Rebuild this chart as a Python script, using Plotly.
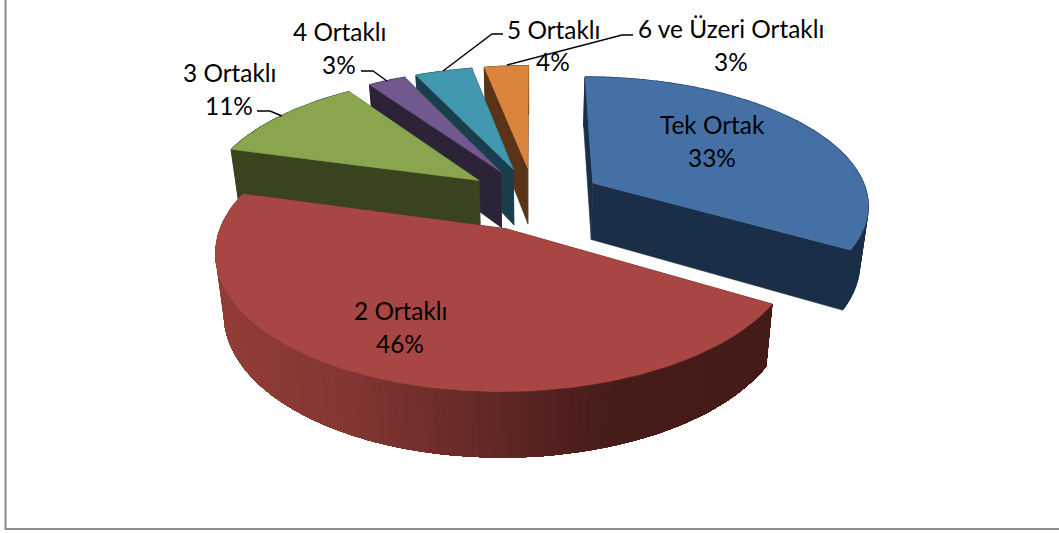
import numpy as np
import plotly.graph_objects as go

# ---- data ----
categories = ["Tek Ortak", "2 Ortaklı", "3 Ortaklı", "4 Ortaklı", "5 Ortaklı", "6 ve Üzeri Ortaklı"]
values = [33.45, 45.85, 11.1, 2.6, 3.95, 3.05]

# ---- styles ----
top_colors = ["#4470A5", "#A84643", "#89A54E", "#71588F", "#4198AF", "#DB843D"]
wall_colors = ["#1B2E47", "#471C19", "#3A431F", "#2D2339", "#1A3F4C", "#5A3318"]
draw_order = [5, 4, 3, 2, 0, 1]
FONT = "Lato"
FS = 24.4

# ---- projection of the tilted, exploded disc onto the axes ----
X0, Y0, A, B, K, EXPLODE = 534.0, 198.5, 276.0, 127.0, 0.155, 0.25
SHRINK, H0, H1 = 0.974, 57.3, 7.1


def top_xy(u, v):
    w = 1 / (1 - K * v)
    return X0 + A * u * w, Y0 + B * v * w


def low_xy(u, v):
    x, y = top_xy(u, v)
    return X0 + (x - X0) * SHRINK, y + H0 + H1 * v


def poly(xs, ys, color, lw=0.6):
    return go.Scatter(x=list(xs) + [xs[0]], y=list(ys) + [ys[0]], mode="lines", fill="toself",
                      fillcolor=color, line=dict(color=color, width=lw),
                      hoverinfo="skip", showlegend=False)


def red_wall_color(x):
    stops_x = [225, 350, 500, 610, 800]
    r = np.interp(x, stops_x, [146, 130, 96, 70, 68])
    g = np.interp(x, stops_x, [60, 54, 39, 28, 27])
    b = np.interp(x, stops_x, [55, 50, 37, 25, 24])
    return f"rgb({r:.0f},{g:.0f},{b:.0f})"


total = sum(values)
edges = np.cumsum([0] + values) / total * 2 * np.pi
traces = []

for i in draw_order:
    a0, a1 = edges[i], edges[i + 1]
    mid = (a0 + a1) / 2
    cu, cv = EXPLODE * np.sin(mid), -EXPLODE * np.cos(mid)
    n = max(6, int((a1 - a0) * 40))
    th = np.linspace(a0, a1, n)
    u, v = cu + np.sin(th), cv - np.cos(th)
    tx, ty = top_xy(u, v)
    lx, ly = low_xy(u, v)
    acx, acy = top_xy(cu, cv)
    bcx, bcy = low_xy(cu, cv)
    # radial faces
    for e in (0, -1):
        traces.append(poly([acx, tx[e], lx[e], bcx], [acy, ty[e], ly[e], bcy], wall_colors[i]))
    # outer wall
    if i == 1:
        # the rim runs right to left with angle; each band is painted over the ones to its left
        for j in range(n - 2, -1, -1):
            traces.append(poly(list(tx[:j + 2]) + list(lx[:j + 2][::-1]),
                               list(ty[:j + 2]) + list(ly[:j + 2][::-1]),
                               red_wall_color((tx[j] + tx[j + 1]) / 2), lw=0))
    else:
        for j in range(n - 1):
            traces.append(poly([tx[j], tx[j + 1], lx[j + 1], lx[j]],
                               [ty[j], ty[j + 1], ly[j + 1], ly[j]], wall_colors[i], lw=1.2))
    # top surface
    traces.append(poly([acx] + list(tx), [acy] + list(ty), top_colors[i]))

# leader lines
leaders = [
    ([257, 270, 282], [111, 111, 116]),
    ([361, 373, 387], [71, 71, 81]),
    ([443, 492, 503], [71, 34, 34]),
    ([507, 622, 633], [65, 35, 35]),
]
for lx_, ly_ in leaders:
    traces.append(go.Scatter(x=lx_, y=ly_, mode="lines", line=dict(color="#000000", width=1.4),
                             hoverinfo="skip", showlegend=False))

fig = go.Figure(traces)

# labels
label_pos = [(712, 124, 157), (400, 310, 343), (229, 72, 105), (339, 31, 64), (553, 29, 61), (731, 28, 61)]
for (x, y1, y2), c, val in zip(label_pos, categories, values):
    for y, t in ((y1, c), (y2, f"{round(val)}%")):
        fig.add_annotation(x=x, y=y, text=t, showarrow=False, xanchor="center", yanchor="middle",
                           font=dict(family=FONT, size=FS, color="#000000"))

# chart frame
fig.add_shape(type="path", path="M 5.5 0 L 5.5 529 L 1059 529", line=dict(color="#8C8C8C", width=2))

fig.update_layout(
    width=1059, height=534, margin=dict(l=0, r=0, t=0, b=0), autosize=False,
    paper_bgcolor="white", plot_bgcolor="white", showlegend=False,
    xaxis=dict(range=[0, 1059], visible=False, fixedrange=True),
    yaxis=dict(range=[534, 0], visible=False, fixedrange=True),
)
fig.write_html("out.html", config={"displayModeBar": False},
               post_script="document.body.style.margin='0';document.body.style.overflow='hidden';")
